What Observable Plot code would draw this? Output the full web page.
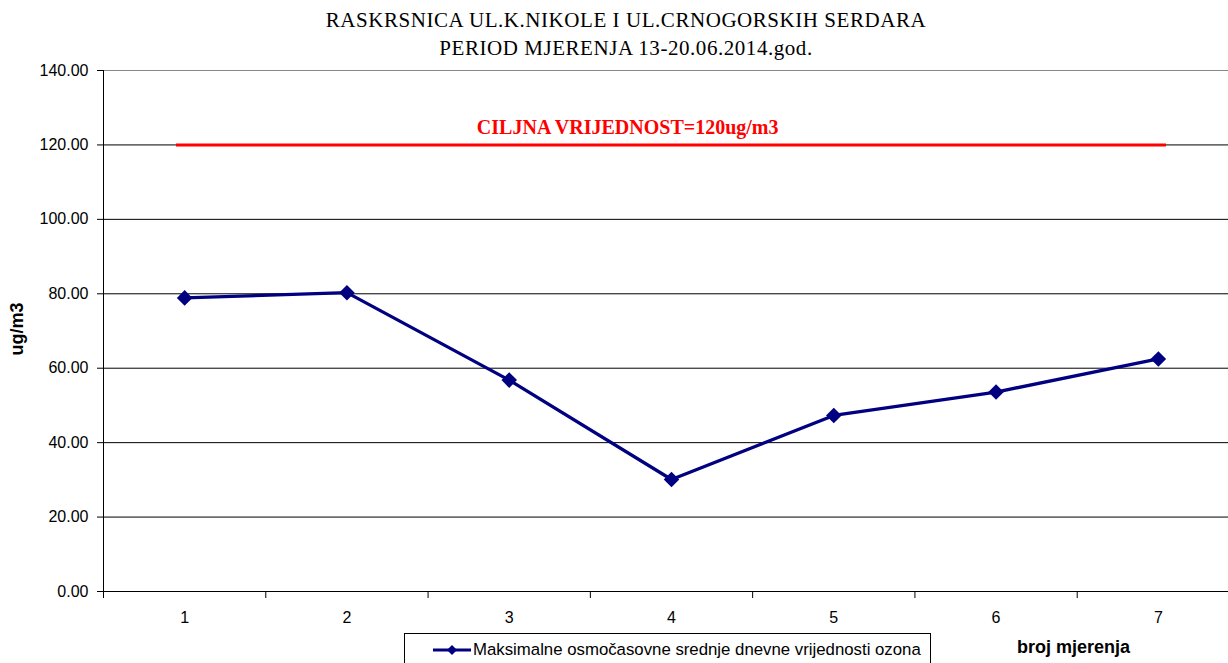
<!DOCTYPE html>
<html>
<head>
<meta charset="utf-8">
<script src="https://cdn.jsdelivr.net/npm/d3@7"></script>
<script src="https://cdn.jsdelivr.net/npm/@observablehq/plot@0.6"></script>
<style>
  html, body { margin: 0; padding: 0; background: #fff; }
  #wrap { position: relative; width: 1228px; height: 663px; overflow: hidden; background: #fff; }
  #title { position: absolute; left: 0; top: 6px; width: 1252px; text-align: center;
           font-family: "Liberation Serif", "Times New Roman", serif; font-size: 21px; letter-spacing: 0.55px; line-height: 28px; color: #000; }
  #chart { position: absolute; left: 0; top: 60px; }
  #ylabel { position: absolute; left: 17px; top: 329px; transform: translate(-50%, -50%) rotate(-90deg);
            font-family: "Liberation Sans", Arial, sans-serif; font-weight: bold; font-size: 18px; white-space: nowrap; }
  #legend { position: absolute; left: 404px; top: 633px; width: 527px; height: 40px; border: 1px solid #000; box-sizing: border-box; }
  #legend svg { position: absolute; left: 27px; top: 7px; }
  #legend span { position: absolute; left: 68px; top: 6px; font-family: "Liberation Sans", Arial, sans-serif; font-size: 16.8px; white-space: nowrap; }
  #xlabel { position: absolute; left: 1017px; top: 637px; font-family: "Liberation Sans", Arial, sans-serif; font-weight: bold; font-size: 18px; white-space: nowrap; }
</style>
</head>
<body>
<div id="wrap">
  <div id="title"></div>
  <div id="chart"></div>
  <div id="ylabel"></div>
  <div id="legend"></div>
  <div id="xlabel"></div>
</div>
<script>
const titleLines = ["RASKRSNICA UL.K.NIKOLE I UL.CRNOGORSKIH SERDARA", "PERIOD MJERENJA 13-20.06.2014.god."];
const measurements = [1, 2, 3, 4, 5, 6, 7];
const ozoneValues = [78.9, 80.3, 56.8, 30.1, 47.3, 53.6, 62.5];
const seriesName = "Maksimalne osmočasovne srednje dnevne vrijednosti ozona";
const yTicks = [0, 20, 40, 60, 80, 100, 120, 140];
const targetValue = 120;
const targetStart = 0.95;
const targetEnd = 7.05;
const targetLabel = "CILJNA VRIJEDNOST=120ug/m3";
const targetLabelX = 3.73;
const xDomain = [0.5, 7.5];
const xBoundaries = [0.5, 1.5, 2.5, 3.5, 4.5, 5.5, 6.5, 7.5];
const yAxisTitle = "ug/m3";
const xAxisTitle = "broj mjerenja";

const data = measurements.map((m, i) => ({x: m, y: ozoneValues[i]}));

document.getElementById("title").innerHTML = titleLines.join("<br>");
document.getElementById("ylabel").textContent = yAxisTitle;
document.getElementById("xlabel").textContent = xAxisTitle;

const sans = "Liberation Sans, Arial, sans-serif";
const navy = "#000080";

const chart = Plot.plot({
  width: 1228,
  height: 568,
  marginLeft: 103,
  marginRight: -11,
  marginTop: 10,
  marginBottom: 37,
  style: {fontFamily: sans, fontSize: "16px", color: "#000", background: "transparent", overflow: "hidden"},
  x: {type: "linear", domain: xDomain},
  y: {domain: [0, 140]},
  marks: [
    Plot.gridY(yTicks.filter(t => t > 0 && t < 140), {stroke: "#000", strokeOpacity: 1}),
    Plot.ruleY([140], {stroke: "#888"}),
    Plot.ruleY([0], {stroke: "#000"}),
    Plot.ruleX([xDomain[0]], {y1: -1.3, y2: 140, stroke: "#000"}),
    Plot.axisY(yTicks, {tickFormat: d3.format(".2f"), tickSize: 6, tickPadding: 9, fontSize: 16, label: null, stroke: "#000"}),
    Plot.axisX(xBoundaries, {tickSize: 7, tickFormat: () => "", label: null, stroke: "#000"}),
    Plot.axisX(measurements, {tickSize: 0, tickPadding: 20, fontSize: 16, label: null, tickFormat: d3.format("d")}),
    Plot.ruleY([targetValue], {x1: targetStart, x2: targetEnd, stroke: "#ff0000", strokeWidth: 3}),
    Plot.text([targetLabel], {x: targetLabelX, y: targetValue, dy: -17, text: d => d, fill: "#ff0000",
      fontFamily: "Liberation Serif, Times New Roman, serif", fontWeight: "bold", fontSize: 20}),
    Plot.line(data, {x: "x", y: "y", stroke: navy, strokeWidth: 3.3}),
    Plot.dot(data, {x: "x", y: "y", symbol: "diamond2", r: 7, fill: navy, stroke: "none"})
  ]
});
document.getElementById("chart").appendChild(chart);

// legend
const legend = document.getElementById("legend");
const ns = "http://www.w3.org/2000/svg";
const ls = document.createElementNS(ns, "svg");
ls.setAttribute("width", 40); ls.setAttribute("height", 18);
ls.innerHTML = `<line x1="1" y1="9" x2="39" y2="9" stroke="${navy}" stroke-width="3"/>` +
  `<path d="M20,4 L25,9 L20,14 L15,9 Z" fill="${navy}"/>`;
legend.appendChild(ls);
const lt = document.createElement("span");
lt.textContent = seriesName;
legend.appendChild(lt);
</script>
</body>
</html>
